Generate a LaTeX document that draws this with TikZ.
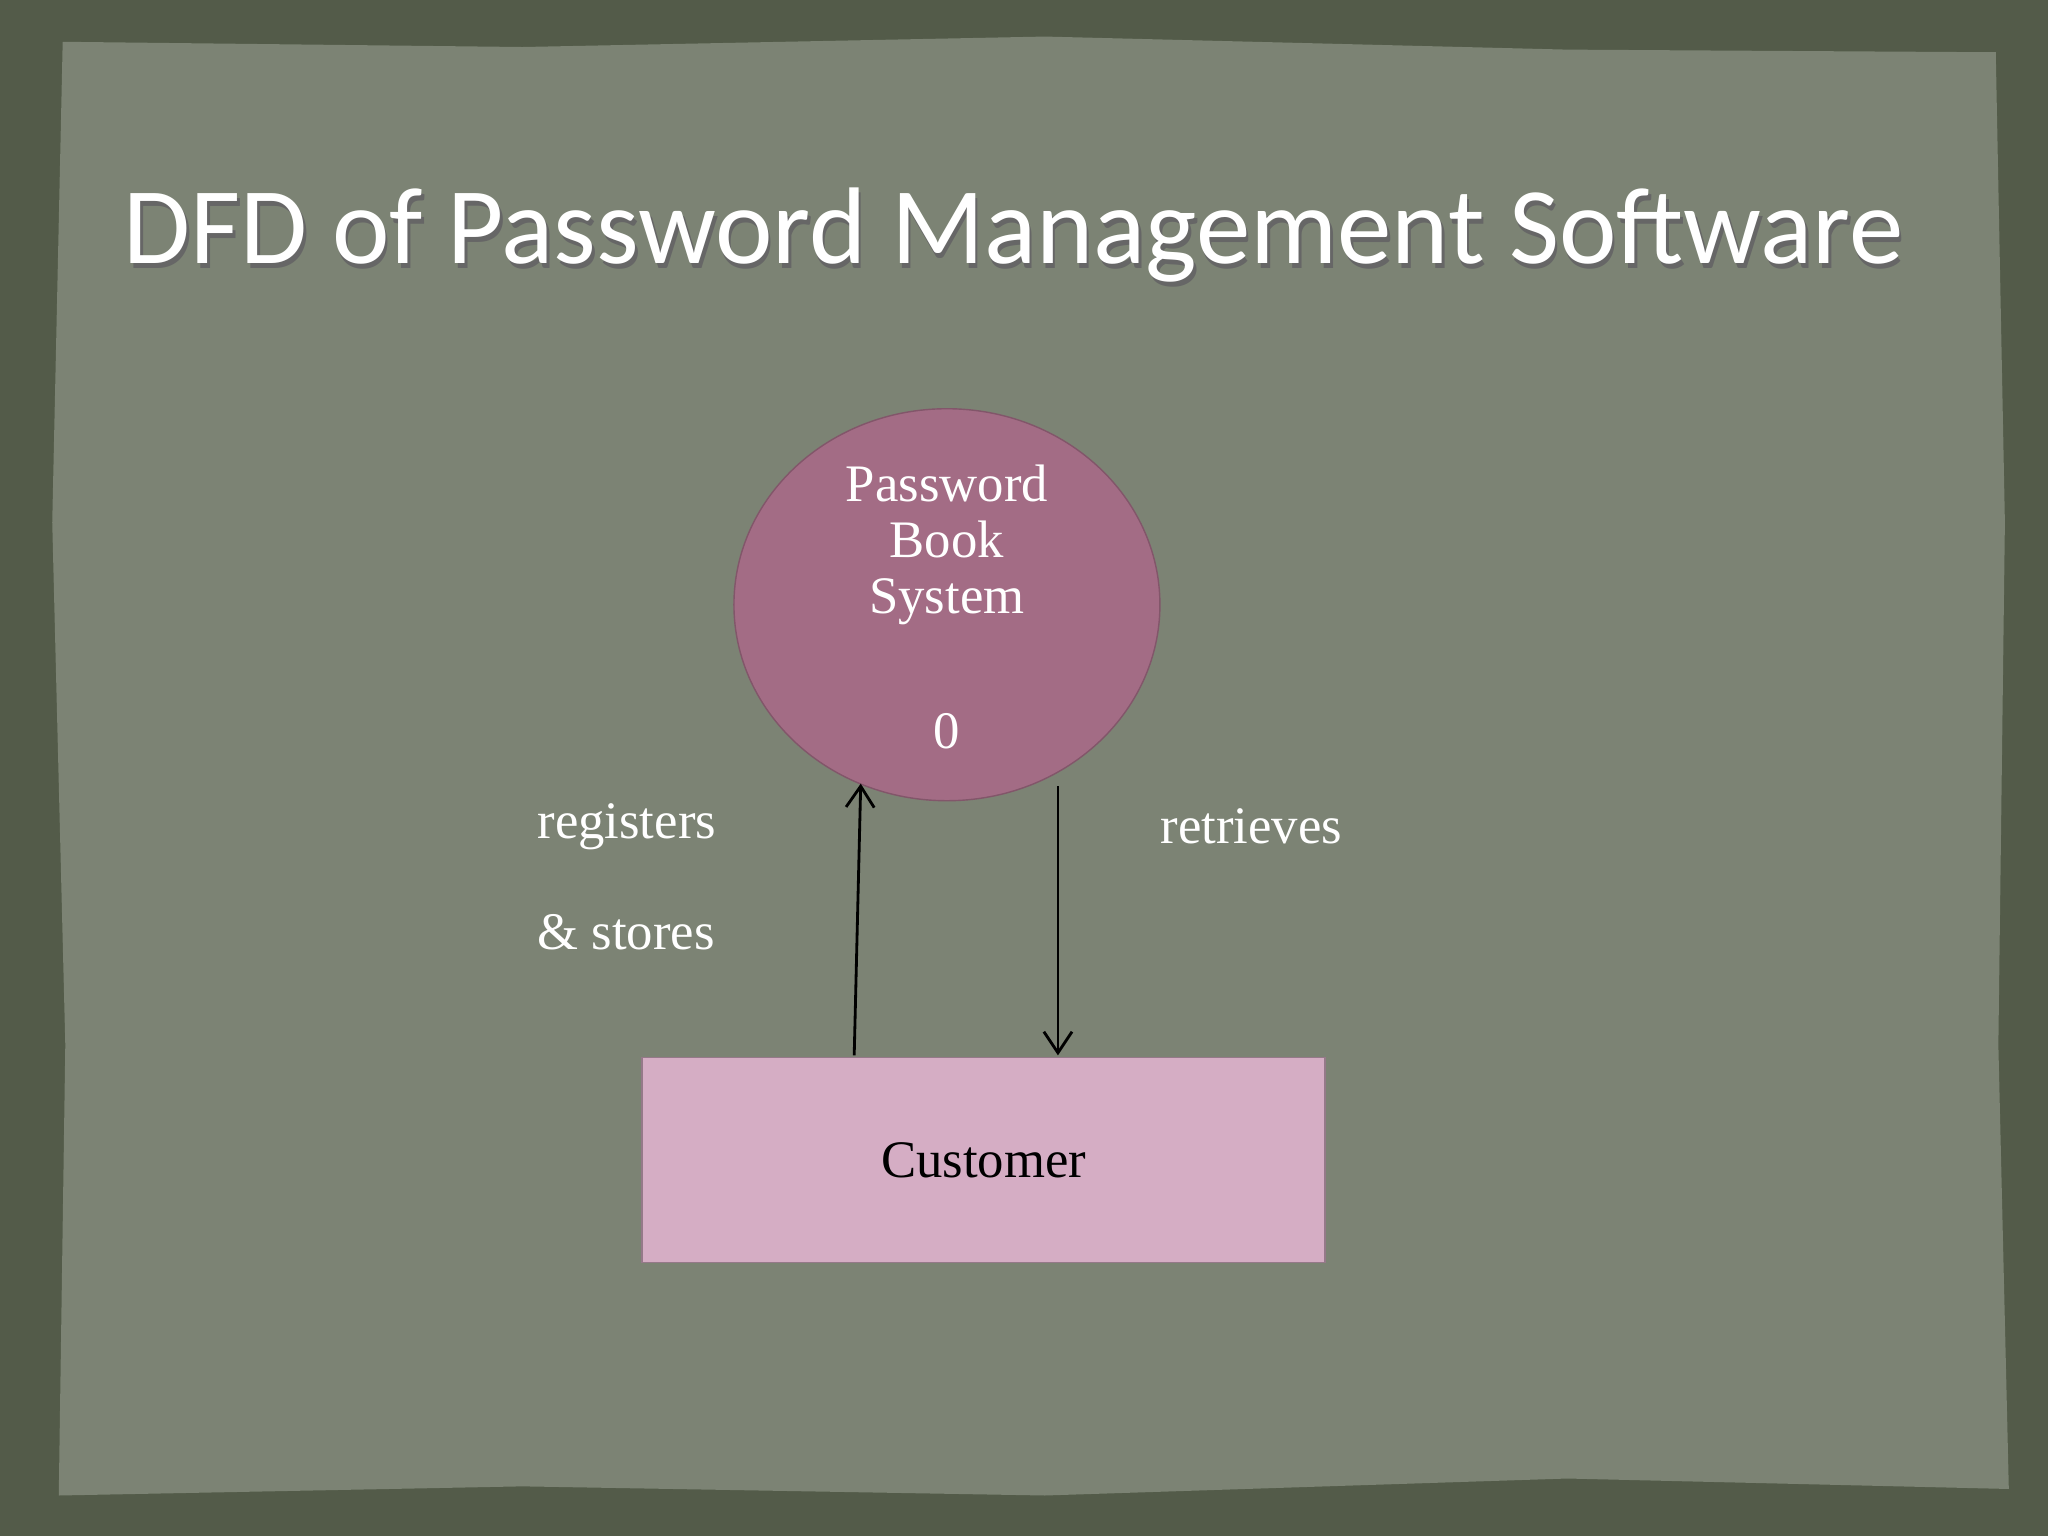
\documentclass[tikz,border=0pt]{standalone}
\usepackage{fontspec}
\setmainfont{Liberation Serif}
\newfontfamily\titlefont{Carlito}
\usetikzlibrary{shapes.geometric,arrows.meta}
\definecolor{bord}{HTML}{535B49}
\definecolor{panel}{HTML}{7C8374}
\definecolor{circ}{HTML}{A36C85}
\definecolor{rectc}{HTML}{D5ADC4}
\tikzset{lbl/.style={text=white,font=\fontsize{15}{17}\selectfont},
flow/.style={-{Straight Barb[length=6pt,width=8pt]},black,line width=0.8pt}}
\begin{document}
\begin{tikzpicture}[x=0.013061cm,y=-0.013061cm]
\useasboundingbox (0,0) rectangle (1568,1176);
\fill[bord] (0,0) rectangle (1568,1176);
\fill[panel] (48,32) -- (400,36) -- (800,28) -- (1200,38) -- (1528,40) -- (1535,400) -- (1530,800) -- (1538,1140) -- (1200,1132) -- (800,1145) -- (400,1138) -- (45,1145) -- (50,800) -- (40,400) -- cycle;
\node[text=black!60,font=\titlefont\fontsize{31}{36}\selectfont] at (778,184) {DFD of Password Management Software};
\node (title) [text=white,font=\titlefont\fontsize{31}{36}\selectfont] at (776,180) {DFD of Password Management Software};
\node (sys) [ellipse,fill=circ,draw=circ!80!black,minimum width=4.26cm,minimum height=3.92cm,inner sep=0] at (725,463) {};
\node[lbl,align=center] at (725,417) {Password\\[-1pt]Book\\[-1pt]System};
\node[lbl] at (725,560) {0};
\node (cust) [draw=rectc!70!black,fill=rectc,minimum width=6.83cm,minimum height=2.05cm,inner sep=0,font=\fontsize{15}{17}\selectfont] at (753,888) {Customer};
\coordinate (a1) at (654,808); \coordinate (a2) at (659,600);
\coordinate (b1) at (810,602); \coordinate (b2) at (810,808);
\draw[flow] (a1) -- (a2);
\draw[flow] (b1) -- (b2);
\node (reg) [lbl,anchor=west] at (402,633) {registers};
\node (sto) [lbl,anchor=west] at (402,714) {\& stores};
\node (ret) [lbl] at (958,633) {retrieves};
\end{tikzpicture}
\end{document}
